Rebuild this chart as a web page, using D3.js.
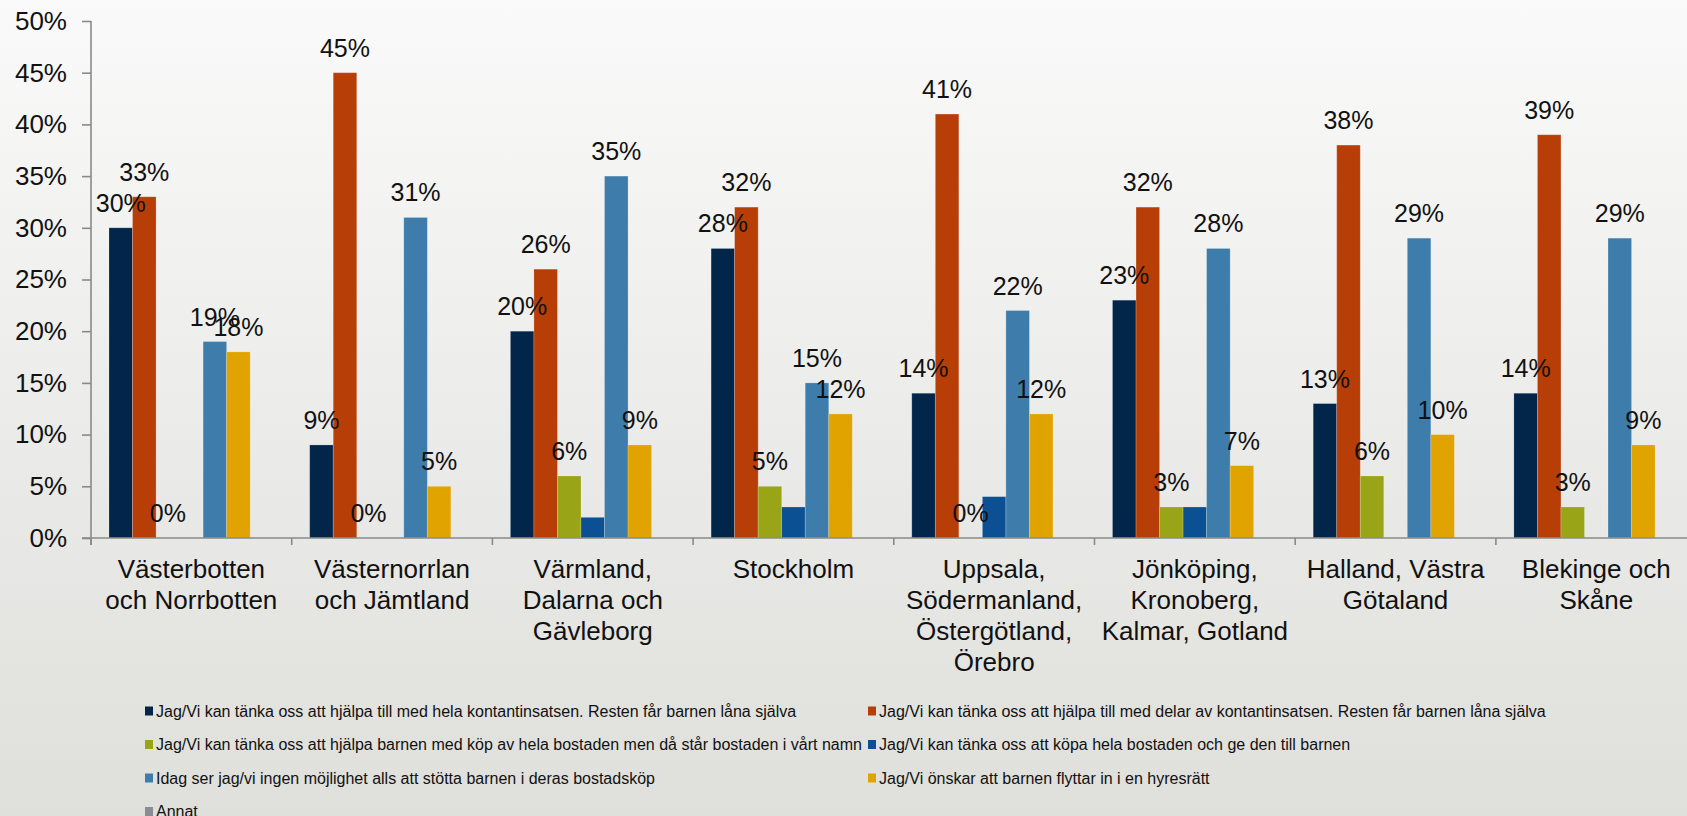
<!DOCTYPE html>
<html>
<head>
<meta charset="utf-8">
<script src="https://cdn.jsdelivr.net/npm/d3@7/dist/d3.min.js"></script>
<style>
  html, body { margin: 0; padding: 0; overflow: hidden; }
  body { width: 1687px; height: 816px; }
  svg { display: block; font-family: "Liberation Sans", Arial, Helvetica, sans-serif; }
</style>
</head>
<body>
<svg id="chart" width="1687" height="816"></svg>
<script>
// ---- data ----
const categories = [
  ["Västerbotten", "och Norrbotten"],
  ["Västernorrlan", "och Jämtland"],
  ["Värmland,", "Dalarna och", "Gävleborg"],
  ["Stockholm"],
  ["Uppsala,", "Södermanland,", "Östergötland,", "Örebro"],
  ["Jönköping,", "Kronoberg,", "Kalmar, Gotland"],
  ["Halland, Västra", "Götaland"],
  ["Blekinge och", "Skåne"]
];
const seriesNames = [
  "Jag/Vi kan tänka oss att hjälpa till med hela kontantinsatsen. Resten får barnen låna själva",
  "Jag/Vi kan tänka oss att hjälpa till med delar av kontantinsatsen. Resten får barnen låna själva",
  "Jag/Vi kan tänka oss att hjälpa barnen med köp av hela bostaden men då står bostaden i vårt namn",
  "Jag/Vi kan tänka oss att köpa hela bostaden och ge den till barnen",
  "Idag ser jag/vi ingen möjlighet alls att stötta barnen i deras bostadsköp",
  "Jag/Vi önskar att barnen flyttar in i en hyresrätt",
  "Annat"
];
const helaKontant   = [30, 9, 20, 28, 14, 23, 13, 14];
const delarKontant  = [33, 45, 26, 32, 41, 32, 38, 39];
const kopVartNamn   = [0, 0, 6, 5, 0, 3, 6, 3];
const kopaGe        = [0, 0, 2, 3, 4, 3, 0, 0];
const ingenMojlighet= [19, 31, 35, 15, 22, 28, 29, 29];
const hyresratt     = [18, 5, 9, 12, 12, 7, 10, 9];
const annat         = [0, 0, 0, 0, 0, 0, 0, 0];
const seriesValues = [helaKontant, delarKontant, kopVartNamn, kopaGe, ingenMojlighet, hyresratt, annat];
const showLabels = [true, true, true, false, true, true, false];
const colors = ["#02254a", "#b83e08", "#99a517", "#0a5092", "#3e7dab", "#e0a300", "#8a8c94"];
const yTicks = [0, 5, 10, 15, 20, 25, 30, 35, 40, 45, 50];

// ---- layout ----
const svg = d3.select("#chart");
const W = 1687, H = 816;
const axisX = 91, y0 = 538, yTop = 21;
const catW = 200.7;

const defs = svg.append("defs");
const grad = defs.append("linearGradient").attr("id", "bg").attr("x1", 0).attr("y1", 0).attr("x2", 0).attr("y2", 1);
grad.append("stop").attr("offset", "0%").attr("stop-color", "#fafafa");
grad.append("stop").attr("offset", "60%").attr("stop-color", "#e9e9e7");
grad.append("stop").attr("offset", "100%").attr("stop-color", "#dfdfdb");
svg.append("rect").attr("width", W).attr("height", H).attr("fill", "url(#bg)");

const x0 = d3.scaleBand().domain(d3.range(categories.length))
  .range([axisX, axisX + catW * categories.length]).padding(0);
const x1 = d3.scaleBand().domain(d3.range(seriesNames.length))
  .range([18, catW - 18]).padding(0);
const y = d3.scaleLinear().domain([0, 50]).range([y0, yTop]);

// bars
const g = svg.append("g");
categories.forEach((c, ci) => {
  const cg = g.append("g").attr("transform", `translate(${x0(ci)},0)`);
  seriesValues.forEach((vals, si) => {
    const v = vals[ci];
    if (v > 0) {
      cg.append("rect")
        .attr("x", x1(si)).attr("y", y(v))
        .attr("width", x1.bandwidth()).attr("height", y(0) - y(v))
        .attr("fill", colors[si])
        .attr("stroke", "rgba(255,255,255,0.25)").attr("stroke-width", 0.8);
    }
  });
  seriesValues.forEach((vals, si) => {
    if (!showLabels[si]) return;
    const v = vals[ci];
    cg.append("text")
      .attr("x", x1(si) + x1.bandwidth() / 2)
      .attr("y", y(v) - 16)
      .attr("text-anchor", "middle")
      .attr("font-size", 25).attr("fill", "#111")
      .text(v + "%");
  });
});

// y axis
const yAxis = d3.axisLeft(y).tickValues(yTicks).tickSize(9).tickPadding(15)
  .tickFormat(d => d + "%");
const ya = svg.append("g").attr("transform", `translate(${axisX},0)`).call(yAxis);
ya.select(".domain").attr("stroke", "#8a8a8a").attr("stroke-width", 1.6).attr("d", `M0,${yTop}V${y0 + 7}`);
ya.selectAll(".tick line").attr("stroke", "#8a8a8a").attr("stroke-width", 1.6);
ya.selectAll(".tick text").attr("font-size", 26).attr("fill", "#111")
  .attr("font-family", "'Liberation Sans', Arial, sans-serif");

// x axis
const xa = svg.append("g");
xa.append("line").attr("x1", axisX - 9).attr("x2", W).attr("y1", y0).attr("y2", y0)
  .attr("stroke", "#8a8a8a").attr("stroke-width", 1.6);
d3.range(categories.length + 1).forEach(i => {
  const xb = axisX + catW * i;
  xa.append("line").attr("x1", xb).attr("x2", xb).attr("y1", y0).attr("y2", y0 + 7)
    .attr("stroke", "#8a8a8a").attr("stroke-width", 1.6);
});
categories.forEach((lines, ci) => {
  const t = xa.append("text")
    .attr("x", x0(ci) + x0.bandwidth() / 2)
    .attr("y", 578)
    .attr("text-anchor", "middle").attr("font-size", 26).attr("fill", "#111");
  lines.forEach((ln, li) => {
    t.append("tspan").attr("x", x0(ci) + x0.bandwidth() / 2).attr("dy", li === 0 ? 0 : 31).text(ln);
  });
});

// legend
const legCols = [145, 868];
const legRows = [711, 744.5, 778, 811.5];
const lg = svg.append("g");
seriesNames.forEach((name, si) => {
  const col = si % 2, row = Math.floor(si / 2);
  const lx = legCols[col], ly = legRows[row];
  lg.append("rect").attr("x", lx).attr("y", ly - 4.5).attr("width", 8).attr("height", 9).attr("fill", colors[si]);
  lg.append("text").attr("x", lx + 11).attr("y", ly).attr("dy", "0.36em")
    .attr("font-size", 16).attr("fill", "#111").text(name);
});
</script>
</body>
</html>
